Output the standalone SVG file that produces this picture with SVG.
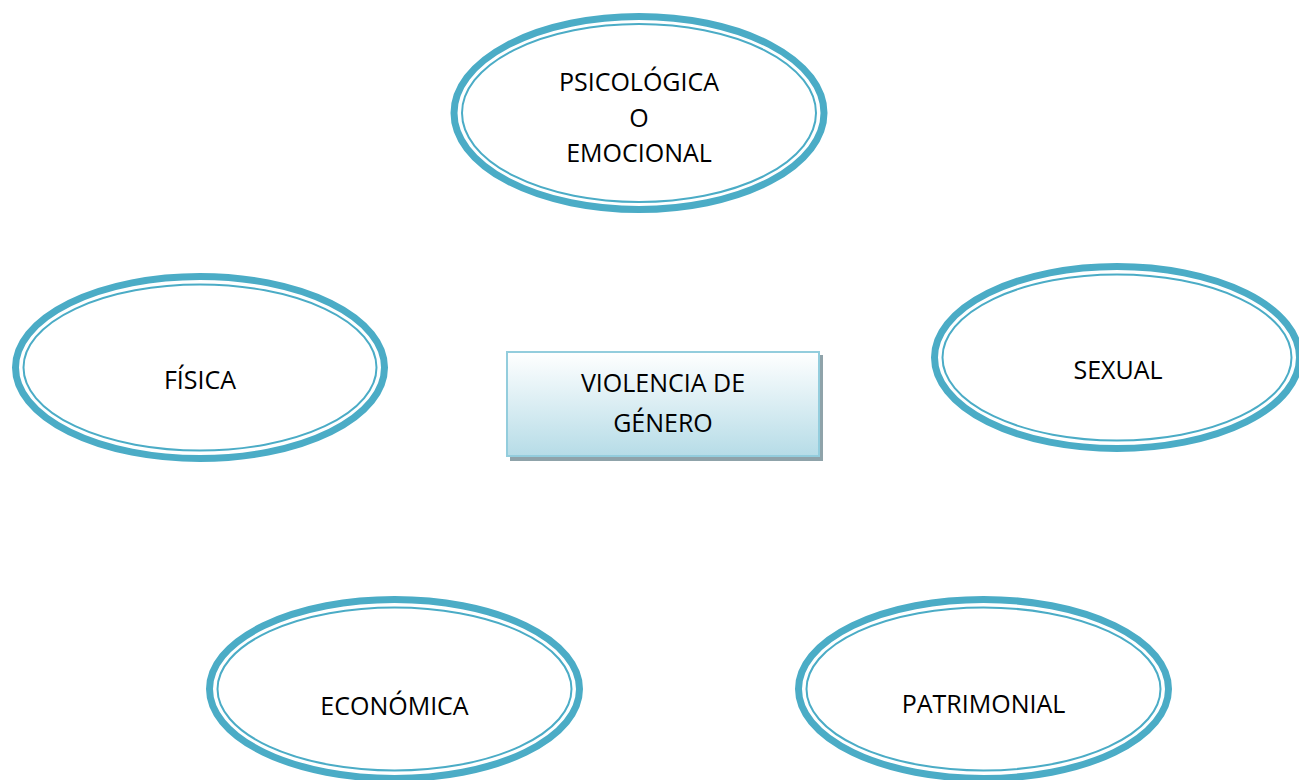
<svg xmlns="http://www.w3.org/2000/svg" width="1299" height="780" viewBox="0 0 1299 780">
  <defs>
    <linearGradient id="boxFill" x1="0" y1="0" x2="0" y2="1">
      <stop offset="0" stop-color="#ffffff"/>
      <stop offset="1" stop-color="#b6dce7"/>
    </linearGradient>
  </defs>
  <style>
    .outer { fill: #ffffff; stroke: #4bacc6; stroke-width: 7; }
    .inner { fill: none; stroke: #4bacc6; stroke-width: 2; }
    .lbl { font-family: "Open Sans", "Liberation Sans", sans-serif; font-size: 25px; fill: #000000; text-anchor: middle; }
    .box { fill: url(#boxFill); stroke: #93cddd; stroke-width: 2; }
    .shadow { fill: #8fa3aa; }
  </style>
  <rect width="1299" height="780" fill="#ffffff"/>
  <g id="connectors"></g>
  <g id="node-psicologica">
    <ellipse class="outer" cx="639" cy="113" rx="185" ry="96.5"/>
    <ellipse class="inner" cx="639" cy="113" rx="177" ry="89"/>
    <text class="lbl" x="639" y="91">PSICOLÓGICA</text>
    <text class="lbl" x="639" y="127">O</text>
    <text class="lbl" x="639" y="162">EMOCIONAL</text>
  </g>
  <g id="node-fisica">
    <ellipse class="outer" cx="200" cy="367.5" rx="184.5" ry="91"/>
    <ellipse class="inner" cx="200" cy="367.5" rx="176.5" ry="83"/>
    <text class="lbl" x="200" y="389">FÍSICA</text>
  </g>
  <g id="node-sexual">
    <ellipse class="outer" cx="1117" cy="357.5" rx="182.5" ry="91"/>
    <ellipse class="inner" cx="1117" cy="357.5" rx="174.5" ry="83"/>
    <text class="lbl" x="1118" y="379">SEXUAL</text>
  </g>
  <g id="node-economica">
    <ellipse class="outer" cx="394.5" cy="689" rx="185" ry="89.5"/>
    <ellipse class="inner" cx="394.5" cy="689" rx="177" ry="81.5"/>
    <text class="lbl" x="394.5" y="715">ECONÓMICA</text>
  </g>
  <g id="node-patrimonial">
    <ellipse class="outer" cx="983.5" cy="689" rx="185" ry="89.5"/>
    <ellipse class="inner" cx="983.5" cy="689" rx="177" ry="81.5"/>
    <text class="lbl" x="983.5" y="713">PATRIMONIAL</text>
  </g>
  <g id="node-violencia">
    <rect class="shadow" x="510" y="355" width="313" height="106"/>
    <rect class="box" x="507" y="352" width="312" height="104"/>
    <text class="lbl" x="663" y="392">VIOLENCIA DE</text>
    <text class="lbl" x="663" y="432">GÉNERO</text>
  </g>
</svg>
